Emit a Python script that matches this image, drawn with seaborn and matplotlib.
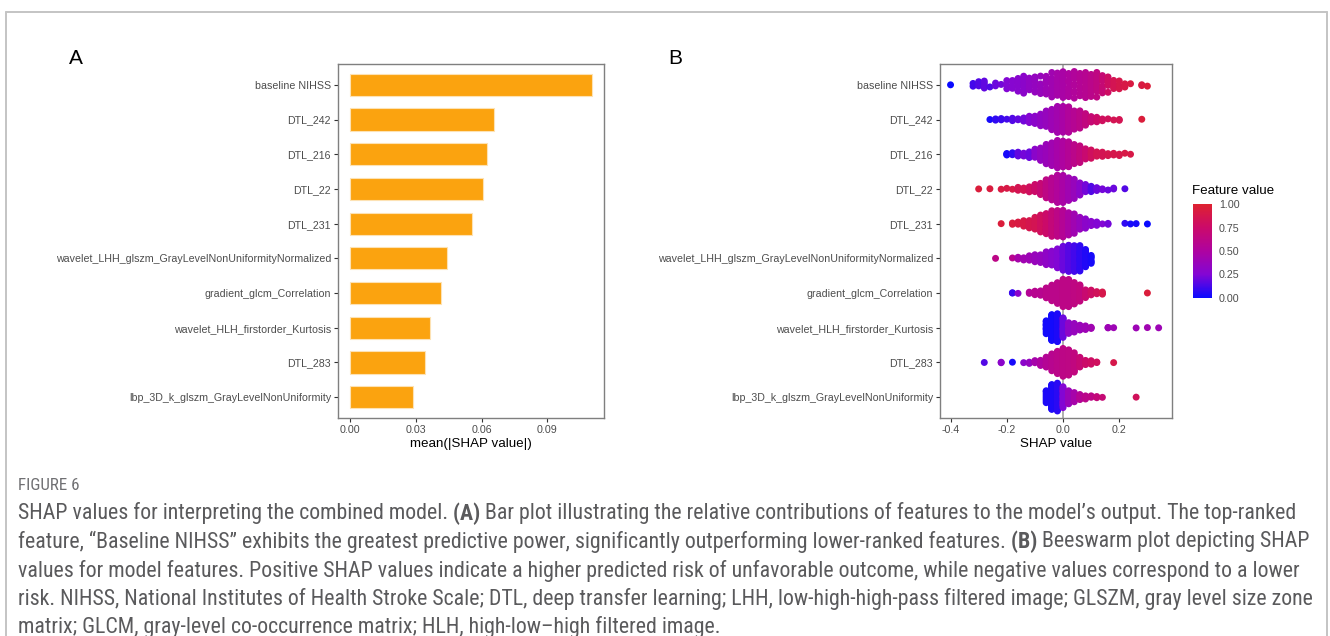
import numpy as np
import pandas as pd
import matplotlib
matplotlib.use("Agg")
import matplotlib.pyplot as plt
import seaborn as sns
from matplotlib.colors import LinearSegmentedColormap, Normalize
from matplotlib.cm import ScalarMappable
from matplotlib.lines import Line2D
from matplotlib import font_manager

# ---------------------------------------------------------------- data
features = [
    "baseline NIHSS",
    "DTL_242",
    "DTL_216",
    "DTL_22",
    "DTL_231",
    "wavelet_LHH_glszm_GrayLevelNonUniformityNormalized",
    "gradient_glcm_Correlation",
    "wavelet_HLH_firstorder_Kurtosis",
    "DTL_283",
    "lbp_3D_k_glszm_GrayLevelNonUniformity",
]

mean_abs_shap = [0.1104, 0.0657, 0.0624, 0.0609, 0.0555,
                 0.0444, 0.0413, 0.0366, 0.0340, 0.0287]

# SHAP values binned at 0.02: (SHAP value, number of samples, mean scaled feature value)
nihss_bins = [(-0.40, 1, 0.00), (-0.32, 2, 0.12), (-0.30, 3, 0.15), (-0.28, 4, 0.18),
              (-0.26, 1, 0.15), (-0.24, 2, 0.20), (-0.22, 1, 0.22), (-0.20, 3, 0.25),
              (-0.18, 4, 0.27), (-0.16, 5, 0.28), (-0.14, 6, 0.30), (-0.12, 6, 0.33),
              (-0.10, 6, 0.35), (-0.08, 5, 0.37), (-0.06, 7, 0.40), (-0.04, 8, 0.42),
              (-0.02, 9, 0.45), (0.00, 9, 0.47), (0.02, 9, 0.50), (0.04, 9, 0.52),
              (0.06, 8, 0.55), (0.08, 9, 0.57), (0.10, 9, 0.60), (0.12, 8, 0.64),
              (0.14, 7, 0.70), (0.16, 5, 0.78), (0.18, 4, 0.85), (0.20, 3, 0.88),
              (0.22, 2, 0.90), (0.24, 1, 0.92), (0.28, 2, 0.92), (0.30, 1, 0.95)]

dtl242_bins = [(-0.26, 1, 0.03), (-0.24, 2, 0.08), (-0.22, 2, 0.10), (-0.20, 1, 0.12),
               (-0.18, 2, 0.15), (-0.16, 2, 0.18), (-0.14, 3, 0.22), (-0.12, 4, 0.26),
               (-0.10, 6, 0.30), (-0.08, 8, 0.33), (-0.06, 11, 0.36), (-0.04, 14, 0.40),
               (-0.02, 18, 0.43), (0.00, 20, 0.47), (0.02, 18, 0.52), (0.04, 14, 0.56),
               (0.06, 11, 0.60), (0.08, 8, 0.65), (0.10, 5, 0.70), (0.12, 3, 0.75),
               (0.14, 2, 0.80), (0.16, 1, 0.82), (0.18, 1, 0.85), (0.20, 2, 0.85),
               (0.28, 1, 0.95)]

dtl216_bins = [(-0.20, 3, 0.03), (-0.18, 2, 0.08), (-0.16, 3, 0.18), (-0.14, 3, 0.22),
               (-0.12, 4, 0.20), (-0.10, 6, 0.30), (-0.08, 9, 0.35), (-0.06, 12, 0.38),
               (-0.04, 16, 0.42), (-0.02, 18, 0.46), (0.00, 18, 0.50), (0.02, 17, 0.55),
               (0.04, 13, 0.60), (0.06, 10, 0.66), (0.08, 7, 0.72), (0.10, 5, 0.80),
               (0.12, 4, 0.85), (0.14, 3, 0.85), (0.16, 2, 0.87), (0.18, 2, 0.88),
               (0.20, 2, 0.88), (0.22, 1, 0.90), (0.24, 1, 0.90)]

dtl22_bins = [(-0.30, 1, 0.95), (-0.26, 1, 0.93), (-0.22, 1, 0.92), (-0.20, 1, 0.90),
              (-0.18, 1, 0.90), (-0.16, 3, 0.85), (-0.14, 3, 0.85), (-0.12, 4, 0.80),
              (-0.10, 6, 0.75), (-0.08, 9, 0.70), (-0.06, 13, 0.63), (-0.04, 17, 0.57),
              (-0.02, 21, 0.52), (0.00, 22, 0.47), (0.02, 18, 0.42), (0.04, 13, 0.37),
              (0.06, 9, 0.30), (0.08, 6, 0.22), (0.10, 4, 0.15), (0.12, 3, 0.20),
              (0.14, 2, 0.22), (0.16, 1, 0.20), (0.18, 2, 0.20), (0.22, 1, 0.15)]

dtl231_bins = [(-0.22, 1, 0.95), (-0.18, 2, 0.93), (-0.16, 2, 0.92), (-0.14, 4, 0.90),
               (-0.12, 6, 0.87), (-0.10, 8, 0.85), (-0.08, 11, 0.80), (-0.06, 14, 0.75),
               (-0.04, 17, 0.68), (-0.02, 19, 0.62), (0.00, 19, 0.55), (0.02, 16, 0.48),
               (0.04, 12, 0.42), (0.06, 9, 0.36), (0.08, 6, 0.30), (0.10, 4, 0.28),
               (0.12, 2, 0.25), (0.14, 1, 0.25), (0.16, 2, 0.22), (0.22, 1, 0.08),
               (0.24, 1, 0.03), (0.26, 1, 0.03), (0.30, 1, 0.00)]

lhh_bins = [(-0.24, 1, 0.62), (-0.18, 1, 0.58), (-0.16, 2, 0.45), (-0.14, 3, 0.42),
            (-0.12, 4, 0.40), (-0.10, 5, 0.37), (-0.08, 7, 0.35), (-0.06, 9, 0.32),
            (-0.04, 12, 0.28), (-0.02, 15, 0.25), (0.00, 17, 0.20), (0.02, 20, 0.16),
            (0.04, 22, 0.12), (0.06, 20, 0.08), (0.08, 15, 0.05), (0.10, 6, 0.03)]

corr_bins = [(-0.18, 2, 0.10), (-0.16, 1, 0.30), (-0.12, 2, 0.55), (-0.10, 3, 0.58),
             (-0.08, 5, 0.58), (-0.06, 8, 0.60), (-0.04, 12, 0.60), (-0.02, 19, 0.60),
             (0.00, 25, 0.62), (0.02, 27, 0.62), (0.04, 20, 0.64), (0.06, 12, 0.66),
             (0.08, 7, 0.72), (0.10, 4, 0.78), (0.12, 3, 0.82), (0.14, 3, 0.88),
             (0.30, 1, 0.95)]

kurt_bins = [(-0.06, 10, 0.02), (-0.04, 45, 0.02), (-0.02, 40, 0.04), (0.00, 18, 0.20),
             (0.02, 12, 0.32), (0.04, 9, 0.36), (0.06, 6, 0.38), (0.08, 4, 0.40),
             (0.10, 3, 0.42), (0.16, 2, 0.40), (0.18, 1, 0.40), (0.26, 1, 0.40),
             (0.30, 1, 0.42), (0.34, 1, 0.40)]

dtl283_bins = [(-0.28, 1, 0.15), (-0.22, 2, 0.30), (-0.18, 1, 0.03), (-0.14, 1, 0.30),
               (-0.12, 2, 0.35), (-0.10, 3, 0.45), (-0.08, 5, 0.50), (-0.06, 8, 0.55),
               (-0.04, 14, 0.58), (-0.02, 22, 0.60), (0.00, 28, 0.62), (0.02, 26, 0.63),
               (0.04, 16, 0.65), (0.06, 8, 0.70), (0.08, 4, 0.75), (0.10, 3, 0.78),
               (0.12, 2, 0.80), (0.18, 1, 0.88)]

lbp_bins = [(-0.06, 8, 0.04), (-0.04, 42, 0.04), (-0.02, 40, 0.07), (0.00, 20, 0.25),
            (0.02, 14, 0.38), (0.04, 9, 0.45), (0.06, 6, 0.55), (0.08, 4, 0.60),
            (0.10, 3, 0.62), (0.12, 2, 0.68), (0.14, 1, 0.70), (0.26, 1, 0.82)]

swarm_bins = [nihss_bins, dtl242_bins, dtl216_bins, dtl22_bins, dtl231_bins,
              lhh_bins, corr_bins, kurt_bins, dtl283_bins, lbp_bins]

bar_ticks = [0.00, 0.03, 0.06, 0.09]
bar_tick_labels = ["0.00", "0.03", "0.06", "0.09"]
shap_ticks = [-0.4, -0.2, 0.0, 0.2]
shap_tick_labels = ["-0.4", "-0.2", "0.0", "0.2"]
cbar_ticks = [0.0, 0.25, 0.5, 0.75, 1.0]
cbar_tick_labels = ["0.00", "0.25", "0.50", "0.75", "1.00"]

caption_title = "FIGURE 6"
caption_lines = [
    [("SHAP values for interpreting the combined model.", "normal"), (" (A)", "bold"),
     (" Bar plot illustrating the relative contributions of features to the model\u2019s output. The top-ranked", "normal")],
    [("feature, \u201cBaseline NIHSS\u201d exhibits the greatest predictive power, significantly outperforming lower-ranked features.", "normal"),
     (" (B)", "bold"), (" Beeswarm plot depicting SHAP", "normal")],
    [("values for model features. Positive SHAP values indicate a higher predicted risk of unfavorable outcome, while negative values correspond to a lower", "normal")],
    [("risk. NIHSS, National Institutes of Health Stroke Scale; DTL, deep transfer learning; LHH, low-high-high-pass filtered image; GLSZM, gray level size zone", "normal")],
    [("matrix; GLCM, gray-level co-occurrence matrix; HLH, high-low\u2013high filtered image.", "normal")],
]

# ---------------------------------------------------------------- style
sns.set_style("white")
plt.rcParams["font.family"] = ["Liberation Sans", "DejaVu Sans"]

W, H = 1330, 636
fig = plt.figure(figsize=(W / 100, H / 100), dpi=100)
fig.patch.set_facecolor("white")


def px_box(left, top, right, bottom):
    return [left / W, 1 - bottom / H, (right - left) / W, (bottom - top) / H]


TICK_GREY = "#4d4d4d"
BORDER = "#7f7f7f"
LABEL_SIZE = 7.7


def style_axes(ax):
    for s in ax.spines.values():
        s.set_visible(True)
        s.set_color(BORDER)
        s.set_linewidth(1.0)
    ax.tick_params(axis="both", which="major", length=3, width=0.8, color="#333333",
                   labelsize=LABEL_SIZE, labelcolor=TICK_GREY, pad=2,
                   bottom=True, left=True)
    ax.grid(False)


cmap = LinearSegmentedColormap.from_list(
    "feature_value",
    ["#0a0aff", "#8306d4", "#ae03a0", "#cb0a6a", "#de2230"])

# ---------------------------------------------------------------- panel A: bar plot
axA = fig.add_axes(px_box(338, 64, 604, 418))
sns.barplot(x=mean_abs_shap, y=features, orient="h", color="#fba30f", saturation=1,
            width=0.64, edgecolor="#fde2b4", linewidth=0.8, ax=axA)
axA.set_xlim(-0.0055, 0.1159)
axA.set_ylim(9.6, -0.6)
axA.set_xticks(bar_ticks)
axA.set_xticklabels(bar_tick_labels)
axA.set_xlabel("mean(|SHAP value|)", fontsize=9.6, color="black", labelpad=2)
axA.set_ylabel("")
style_axes(axA)

# ---------------------------------------------------------------- panel B: beeswarm


def van_der_corput(n, base=2):
    out = np.zeros(n)
    for i in range(n):
        k, denom, v = i + 1, 1.0, 0.0
        while k:
            k, r = divmod(k, base)
            denom *= base
            v += r / denom
        out[i] = v
    return out


frames = []
for row, bins in enumerate(swarm_bins):
    vals = np.array([b[0] for b in bins])
    counts = np.array([b[1] for b in bins])
    fvals = np.array([b[2] for b in bins])
    x = np.repeat(vals, counts)
    c = np.repeat(fvals, counts)
    # quasirandom spread: width follows the density of SHAP values in the row
    bw = 0.022
    dens = np.exp(-0.5 * ((x[:, None] - x[None, :]) / bw) ** 2).sum(axis=1)
    dens = dens / dens.max()
    offs = (van_der_corput(len(x)) - 0.5) * 2 * 0.41 * dens
    frames.append(pd.DataFrame({"feature": features[row], "shap": x,
                                "fval": c, "ypos": row + offs}))
swarm = pd.concat(frames, ignore_index=True)

axB = fig.add_axes(px_box(940, 64, 1172, 418))
axB.axvline(0, color="#9a9a9a", linewidth=1.1, zorder=0)
sns.scatterplot(data=swarm, x="shap", y="ypos", hue="fval", palette=cmap,
                hue_norm=(0, 1), s=25, linewidth=0, alpha=1.0, legend=False,
                ax=axB, zorder=2)
axB.set_xlim(-0.4375, 0.3875)
axB.set_ylim(9.6, -0.6)
axB.set_yticks(range(len(features)))
axB.set_yticklabels(features)
axB.set_xticks(shap_ticks)
axB.set_xticklabels(shap_tick_labels)
axB.set_xlabel("SHAP value", fontsize=9.6, color="black", labelpad=2)
axB.set_ylabel("")
style_axes(axB)

# colour bar
cax = fig.add_axes(px_box(1193, 204, 1212, 298))
cb = fig.colorbar(ScalarMappable(norm=Normalize(0, 1), cmap=cmap), cax=cax)
cb.outline.set_visible(False)
cb.set_ticks(cbar_ticks)
cb.set_ticklabels(cbar_tick_labels)
cax.yaxis.set_ticks_position("both")
cax.tick_params(axis="y", direction="in", length=3.5, width=0.8, color="white",
                labelsize=LABEL_SIZE, labelcolor=TICK_GREY, pad=5,
                left=True, right=True, labelleft=False, labelright=True)
fig.text(1192 / W, 1 - 191 / H, "Feature value", fontsize=9.6, color="black",
         ha="left", va="center")

# panel letters
fig.text(69 / W, 1 - 58 / H, "A", fontsize=15, color="black", ha="left", va="center")
fig.text(668 / W, 1 - 58 / H, "B", fontsize=15, color="black", ha="left", va="center")

# ---------------------------------------------------------------- frame and caption
frame_kw = dict(color="#c4c4c4", linewidth=1.4, transform=fig.transFigure)
fig.add_artist(Line2D([6 / W, 1327 / W], [1 - 12 / H, 1 - 12 / H], **frame_kw))
fig.add_artist(Line2D([6 / W, 6 / W], [1 - 12 / H, 0], **frame_kw))
fig.add_artist(Line2D([1327 / W, 1327 / W], [1 - 12 / H, 0], **frame_kw))

avail = {f.name for f in font_manager.fontManager.ttflist}
cap_family = next((f for f in ["Liberation Sans Narrow", "Roboto Condensed",
                               "Open Sans Condensed"] if f in avail), "Liberation Sans")

renderer = fig.canvas.get_renderer()
probe = fig.text(0, 0, "".join(s for s, _ in caption_lines[0]), fontsize=12,
                 family=cap_family)
probe_w = probe.get_window_extent(renderer).width
probe.remove()
cap_size = 12 * 1280 / probe_w

CAP_COLOR = "#5a5a5c"
fig.text(18 / W, 1 - 485 / H, caption_title, fontsize=cap_size * 0.78,
         family=cap_family, color="#707073", ha="left", va="center")

line_y = [513.5, 542, 570.5, 599, 627.5]
for segs, y in zip(caption_lines, line_y):
    x = 18.0
    for txt, weight in segs:
        t = fig.text(x / W, 1 - y / H, txt, fontsize=cap_size, fontweight=weight,
                     family=cap_family, color=CAP_COLOR, ha="left", va="center")
        x += t.get_window_extent(renderer).width

fig.savefig("out.png", dpi=100, facecolor="white")
